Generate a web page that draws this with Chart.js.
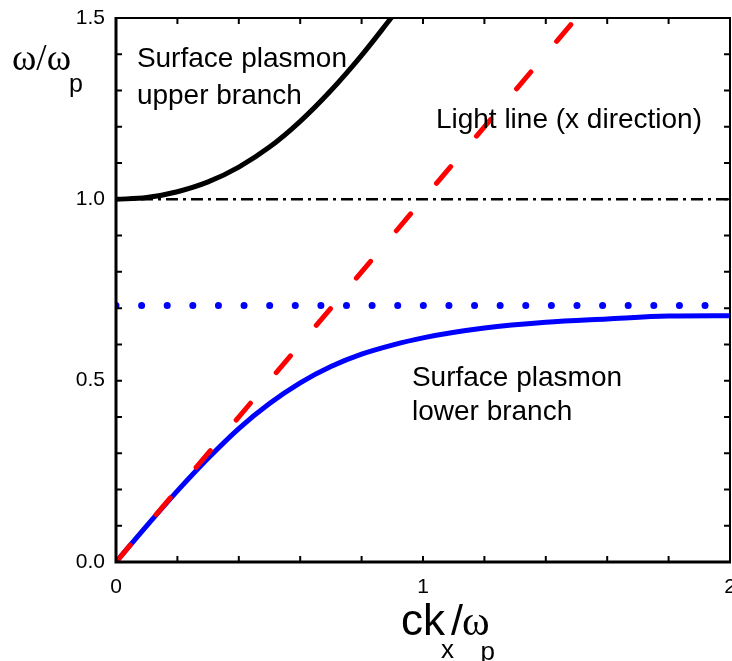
<!DOCTYPE html>
<html>
<head>
<meta charset="utf-8">
<title>Surface plasmon dispersion</title>
<script src="https://cdn.jsdelivr.net/npm/chart.js@4/dist/chart.umd.min.js"></script>
<style>
  html, body { margin: 0; padding: 0; background: #fff; }
  #wrap { position: relative; width: 732px; height: 661px; }
</style>
</head>
<body>
<div id="wrap"><canvas id="dispersion"></canvas></div>
<script>
// normalised wavevector ck_x/wp and frequency w/wp
const kUpper = [0, 0.1, 0.2, 0.3, 0.4, 0.5, 0.6, 0.7, 0.8, 0.9];
const wUpper = [1.0, 1.005, 1.021, 1.048, 1.089, 1.144, 1.215, 1.300, 1.397, 1.504];

const kLower = [0, 0.1, 0.2, 0.3, 0.4, 0.5, 0.6, 0.7, 0.8, 0.9, 1.0, 1.2, 1.4, 1.6, 1.8, 2.0];
const wLower = [0, 0.0995, 0.196, 0.286, 0.368, 0.437, 0.494, 0.539, 0.573, 0.598, 0.618, 0.645, 0.661, 0.670, 0.678, 0.679];

const kLight = [0, 1.5];
const wLight = [0, 1.5];

const kRange = [0, 2];
const wPlasma = [1.0, 1.0];
const wSurface = [0.707, 0.707];

const xTickLabels = ['0', '1', '2'];
const yTickLabels = ['0.0', '0.5', '1.0', '1.5'];

const labelFont = '"Liberation Sans", Arial, sans-serif';
const symbolFont = '"Liberation Serif", "Times New Roman", serif';

Chart.defaults.font.family = labelFont;
Chart.defaults.font.size = 21;
Chart.defaults.color = '#000';

function toPoints(xs, ys) {
    return xs.map((x, i) => ({ x: x, y: ys[i] }));
}

// frame, inward ticks, annotations and axis titles
const decorations = {
    id: 'decorations',
    afterDraw(chart) {
        const ctx = chart.ctx;
        const { left, right, top, bottom } = chart.chartArea;
        const xs = chart.scales.x;
        const ys = chart.scales.y;
        ctx.save();
        ctx.strokeStyle = '#000';
        ctx.lineCap = 'butt';

        // box
        ctx.lineWidth = 2;
        ctx.beginPath();
        ctx.moveTo(left, top);
        ctx.lineTo(right, top);
        ctx.lineTo(right, bottom);
        ctx.stroke();
        ctx.lineWidth = 3;
        ctx.beginPath();
        ctx.moveTo(left, top - 1);
        ctx.lineTo(left, bottom);
        ctx.lineTo(right + 1, bottom);
        ctx.stroke();

        // tick marks pointing into the plot
        const tick = 6;
        ctx.lineWidth = 2;
        ctx.beginPath();
        xs.ticks.forEach(t => {
            const px = xs.getPixelForValue(t.value);
            ctx.moveTo(px, bottom);
            ctx.lineTo(px, bottom - tick);
            ctx.moveTo(px, top);
            ctx.lineTo(px, top + tick);
        });
        ys.ticks.forEach(t => {
            const py = ys.getPixelForValue(t.value);
            ctx.moveTo(left, py);
            ctx.lineTo(left + tick, py);
            ctx.moveTo(right, py);
            ctx.lineTo(right - tick, py);
        });
        ctx.stroke();

        // curve labels
        ctx.fillStyle = '#000';
        ctx.textAlign = 'left';
        ctx.textBaseline = 'alphabetic';
        ctx.font = '28px ' + labelFont;
        const note = (text, x, y) => ctx.fillText(text, xs.getPixelForValue(x), ys.getPixelForValue(y));
        note('Surface plasmon', 0.068, 1.365);
        note('upper branch', 0.068, 1.263);
        note('Light line (x direction)', 1.042, 1.197);
        note('Surface plasmon', 0.964, 0.485);
        note('lower branch', 0.964, 0.392);

        // y title: w/w_p
        ctx.font = '37px ' + symbolFont;
        ctx.fillText('\u03C9/\u03C9', 12, 70);
        ctx.font = '25px ' + labelFont;
        ctx.fillText('p', 69, 92);

        // x title: ck_x/w_p
        let x = 401;
        ctx.font = '44px ' + labelFont;
        ctx.fillText('ck', x, 635);
        x += ctx.measureText('ck').width - 4;
        ctx.font = '26px ' + labelFont;
        ctx.fillText('x', x, 658);
        x += ctx.measureText('x').width - 3;
        ctx.font = '43px ' + labelFont;
        ctx.fillText('/', x, 635);
        x += ctx.measureText('/').width - 1;
        ctx.font = '42px ' + symbolFont;
        ctx.fillText('\u03C9', x, 635);
        x += ctx.measureText('\u03C9').width;
        ctx.font = '26px ' + labelFont;
        ctx.fillText('p', x - 9, 660);

        ctx.restore();
    }
};

const ctx = document.getElementById('dispersion').getContext('2d');

new Chart(ctx, {
    type: 'line',
    data: {
        datasets: [
            {
                // light line, w = c k
                data: toPoints(kLight, wLight),
                borderColor: '#ff0000',
                borderWidth: 5,
                borderDash: [22, 40],
                borderCapStyle: 'round'
            },
            {
                data: toPoints(kUpper, wUpper),
                borderColor: '#000000',
                borderWidth: 5,
                cubicInterpolationMode: 'monotone'
            },
            {
                data: toPoints(kLower, wLower),
                borderColor: '#0000ff',
                borderWidth: 5,
                cubicInterpolationMode: 'monotone'
            },
            {
                // w = wp / sqrt(2)
                data: toPoints(kRange, wSurface),
                borderColor: '#0000ff',
                borderWidth: 7,
                borderDash: [0.01, 25.6],
                borderCapStyle: 'round'
            },
            {
                // w = wp
                data: toPoints(kRange, wPlasma),
                borderColor: '#000000',
                borderWidth: 2.5,
                borderDash: [12, 5, 3, 5]
            }
        ]
    },
    options: {
        responsive: true,
        maintainAspectRatio: false,
        animation: false,
        layout: { padding: { top: 18, right: 2, left: 0, bottom: 0 } },
        elements: { point: { radius: 0 } },
        plugins: {
            legend: { display: false },
            tooltip: { enabled: false }
        },
        scales: {
            x: {
                type: 'linear',
                min: 0,
                max: 2,
                grid: { display: false, drawTicks: false },
                border: { display: false },
                ticks: {
                    stepSize: 0.2,
                    autoSkip: false,
                    maxRotation: 0,
                    padding: 13,
                    color: '#000',
                    font: { family: labelFont, size: 21 },
                    callback: v => {
                        const i = Math.round(v);
                        return Math.abs(v - i) < 1e-6 ? xTickLabels[i] : '';
                    }
                },
                afterFit: scale => {
                    scale.height = 99;
                    scale.paddingLeft = 0;
                    scale.paddingRight = 0;
                }
            },
            y: {
                type: 'linear',
                min: 0,
                max: 1.5,
                grid: { display: false, drawTicks: false },
                border: { display: false },
                ticks: {
                    stepSize: 0.1,
                    autoSkip: false,
                    padding: 11,
                    color: '#000',
                    font: { family: labelFont, size: 21 },
                    callback: v => {
                        const i = Math.round(v * 2);
                        return Math.abs(v * 2 - i) < 1e-6 ? yTickLabels[i] : '';
                    }
                },
                afterFit: scale => {
                    scale.width = 116;
                    scale.paddingTop = 0;
                    scale.paddingBottom = 0;
                }
            }
        }
    },
    plugins: [decorations]
});
</script>
</body>
</html>
